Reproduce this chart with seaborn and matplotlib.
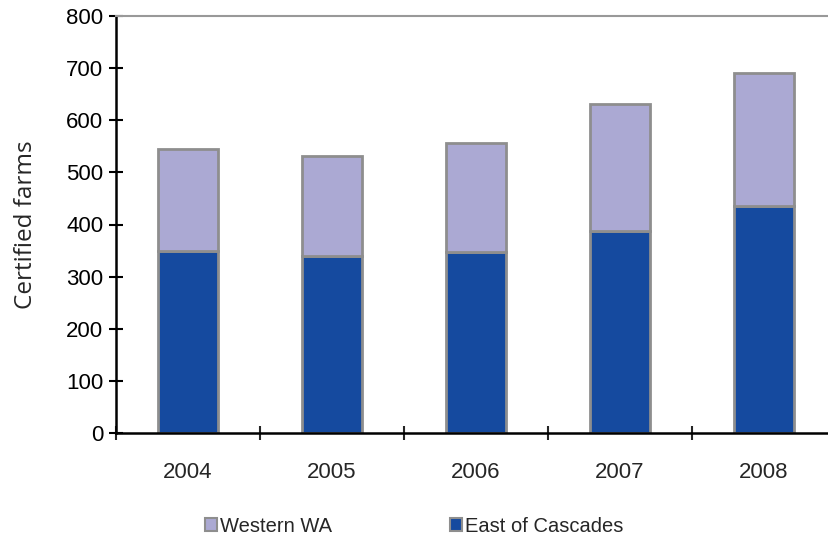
import numpy as np
import pandas as pd
import matplotlib
matplotlib.use('Agg')
import matplotlib.pyplot as plt
import seaborn as sns
from matplotlib.patches import Patch

years = ['2004', '2005', '2006', '2007', '2008']
east = [350, 340, 347, 388, 435]
western = [194, 192, 209, 243, 256]

df = pd.DataFrame({'Year': years, 'East': east, 'Western': western})

sns.set_style('white')
plt.rcParams['font.family'] = ['Liberation Sans', 'DejaVu Sans']

east_col = '#154A9F'
west_col = '#ABA9D3'
edge = '#8E8E8E'

fig = plt.figure(figsize=(8.29, 5.37), dpi=100)
ax = fig.add_axes([116 / 829, 104 / 537, 720 / 829, 417 / 537])

sns.barplot(data=df, x='Year', y='East', color=east_col, width=0.41,
            edgecolor=edge, linewidth=2, saturation=1, ax=ax)
sns.barplot(data=df, x='Year', y='Western', bottom=df['East'], color=west_col,
            width=0.41, edgecolor=edge, linewidth=2, saturation=1, ax=ax)

ax.set_xlim(-0.5, 4.5)
ax.set_ylim(0, 800)
ax.set_yticks(np.arange(0, 801, 100))
ax.set_xlabel('')
ax.set_ylabel('Certified farms', fontsize=17.5, family=['Open Sans', 'DejaVu Sans'],
              labelpad=20)

ax.tick_params(axis='y', labelsize=16, direction='inout', length=10, width=1.5,
               left=True, pad=4, colors='black')
ax.tick_params(axis='x', which='major', labelsize=16, length=0, pad=21)
ax.set_xticks(np.arange(-0.5, 5, 1), minor=True)
ax.tick_params(axis='x', which='minor', direction='inout', length=10, width=1.5,
               bottom=True)

for s in ['left', 'bottom']:
    ax.spines[s].set_color('black')
    ax.spines[s].set_linewidth(1.8)
ax.spines['top'].set_color('#999999')
ax.spines['top'].set_linewidth(1.5)
ax.spines['right'].set_visible(False)

handles = [Patch(facecolor=west_col, edgecolor=edge, linewidth=1.5, label='Western WA'),
           Patch(facecolor=east_col, edgecolor=edge, linewidth=1.5, label='East of Cascades')]
fig.legend(handles=handles, loc='center left', bbox_to_anchor=(195 / 829, 11 / 537),
           ncol=2, frameon=False, fontsize=14.5, handlelength=0.6, handleheight=0.6,
           handletextpad=0.15, columnspacing=5.85, borderpad=0)

fig.savefig('out.png', dpi=100)
